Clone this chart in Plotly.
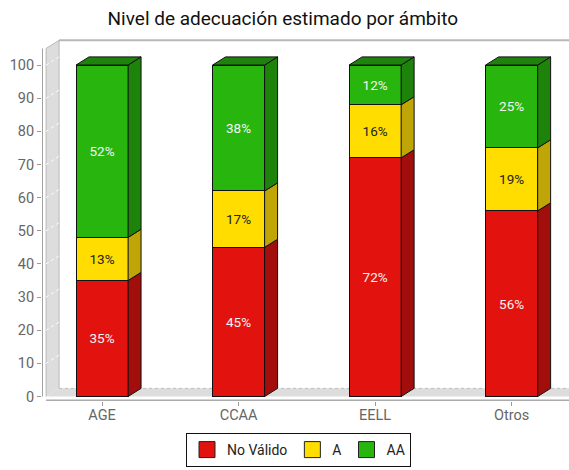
import plotly.graph_objects as go

categories = ["AGE", "CCAA", "EELL", "Otros"]
no_valido = [35, 45, 72, 56]
nivel_a = [13, 17, 16, 19]
nivel_aa = [52, 38, 12, 25]
y_ticks = [0, 10, 20, 30, 40, 50, 60, 70, 80, 90, 100]

series = [
    ("No Válido", no_valido, "#e2130f", "#a10e0b", "#f4f4f4"),
    ("A", nivel_a, "#ffdd00", "#bfa606", "#222222"),
    ("AA", nivel_aa, "#27b50e", "#1e830b", "#f4f4f4"),
]

# profundidad del efecto 3D en unidades de los ejes
BAR_W = 0.381
DX = 0.095
DY = 2.45
X_MIN = -0.44
X_MAX = 3.42
Y_MIN = -1.36
Y_MAX = 107.85

fig = go.Figure()

for name, values, color, side, txt in series:
    fig.add_trace(go.Bar(
        x=list(range(len(categories))),
        y=values,
        width=BAR_W,
        name=name,
        showlegend=False,
        marker=dict(color=color, line=dict(color="#111111", width=1)),
        text=[f"{v}%" for v in values],
        textposition="inside",
        insidetextanchor="middle",
        textangle=0,
        textfont=dict(color=txt, size=13.5, family="Roboto"),
        hoverinfo="skip",
    ))

# caras laterales y superiores de cada barra
base = [0] * len(categories)
for name, values, color, side, txt in series:
    for i, v in enumerate(values):
        x1 = i + BAR_W / 2
        y0 = base[i]
        y1 = base[i] + v
        fig.add_trace(go.Scatter(
            x=[x1, x1 + DX, x1 + DX, x1, x1],
            y=[y0, y0 + DY, y1 + DY, y1, y0],
            mode="lines",
            fill="toself",
            fillcolor=side,
            line=dict(color="#111111", width=1),
            showlegend=False,
            hoverinfo="skip",
        ))
        base[i] = y1
    # la tapa sólo en la serie superior
    if name == "AA":
        for i in range(len(categories)):
            x0 = i - BAR_W / 2
            x1 = i + BAR_W / 2
            top = base[i]
            fig.add_trace(go.Scatter(
                x=[x0, x0 + DX, x1 + DX, x1, x0],
                y=[top, top + DY, top + DY, top, top],
                mode="lines",
                fill="toself",
                fillcolor=side,
                line=dict(color="#111111", width=1),
                showlegend=False,
                hoverinfo="skip",
            ))

# trazas vacías sólo para la leyenda (cuadros más grandes que los de go.Bar)
for name, values, color, side, txt in series:
    fig.add_trace(go.Scatter(
        x=[None],
        y=[None],
        mode="markers",
        name=name,
        marker=dict(symbol="square", size=18, color=color, line=dict(color="#222222", width=1)),
    ))

wall_left = -0.41
shapes = [
    # pared izquierda y suelo
    dict(type="path", layer="below", line=dict(width=0), fillcolor="#dddddd",
         path=f"M {wall_left},105 L {wall_left + DX},{105 + DY} L {wall_left + DX},{DY} L {wall_left},0 Z"),
    dict(type="path", layer="below", line=dict(width=0), fillcolor="#dddddd",
         path=f"M {wall_left},0 L {wall_left + DX},{DY} L {X_MAX},{DY} L {X_MAX},0 Z"),
    # bordes del fondo
    dict(type="line", layer="below", x0=wall_left + DX, x1=X_MAX, y0=105 + DY, y1=105 + DY,
         line=dict(color="#b8b8b8", width=2)),
    dict(type="line", layer="below", x0=wall_left, x1=wall_left + DX, y0=105, y1=105 + DY,
         line=dict(color="#b8b8b8", width=1)),
    dict(type="line", layer="below", x0=wall_left + DX, x1=wall_left + DX, y0=DY, y1=105 + DY,
         line=dict(color="#b8b8b8", width=1)),
    dict(type="line", layer="below", x0=wall_left, x1=wall_left, y0=0, y1=105,
         line=dict(color="#b8b8b8", width=1)),
    dict(type="line", layer="below", x0=wall_left + DX, x1=X_MAX, y0=DY, y1=DY,
         line=dict(color="#bbbbbb", width=1, dash="dot")),
    # ejes
    dict(type="line", x0=X_MIN + 0.003, x1=X_MIN + 0.003, y0=0, y1=105, line=dict(color="#999999", width=1)),
    dict(type="line", x0=wall_left, x1=X_MAX, y0=Y_MIN + 0.15, y1=Y_MIN + 0.15, line=dict(color="#aaaaaa", width=2)),
]
for t in y_ticks[1:]:
    shapes.append(dict(type="line", layer="below", x0=wall_left, x1=wall_left + DX, y0=t, y1=t + DY,
                       line=dict(color="white", width=1, dash="dot")))

fig.update_layout(
    barmode="stack",
    width=569,
    height=470,
    margin=dict(l=42, r=0, t=39, b=69),
    plot_bgcolor="white",
    paper_bgcolor="white",
    font=dict(family="Roboto", color="#666666", size=14),
    title=dict(
        text="Nivel de adecuación estimado por ámbito",
        x=0.497,
        xanchor="center",
        y=0.96,
        yanchor="middle",
        font=dict(family="Roboto", size=19, color="#111111"),
    ),
    xaxis=dict(
        range=[X_MIN, X_MAX],
        tickvals=list(range(len(categories))),
        ticktext=categories,
        ticks="outside",
        ticklen=4,
        tickcolor="#999999",
        ticklabelstandoff=-3,
        showgrid=False,
        zeroline=False,
        tickfont=dict(size=14.5, color="#666666"),
    ),
    yaxis=dict(
        range=[Y_MIN, Y_MAX],
        tickvals=y_ticks,
        ticks="outside",
        ticklen=4,
        tickcolor="#999999",
        showgrid=False,
        zeroline=False,
        tickfont=dict(size=14.5, color="#666666"),
    ),
    legend=dict(
        orientation="h",
        traceorder="normal",
        xref="container",
        yref="container",
        x=186 / 569,
        xanchor="left",
        y=1 - 433 / 470,
        yanchor="top",
        bordercolor="#111111",
        borderwidth=1,
        bgcolor="white",
        font=dict(size=14, color="#222222", family="Roboto"),
    ),
    shapes=shapes,
)

fig.write_html("out.html", config=dict(displayModeBar=False), post_script="document.body.style.margin='0';")
